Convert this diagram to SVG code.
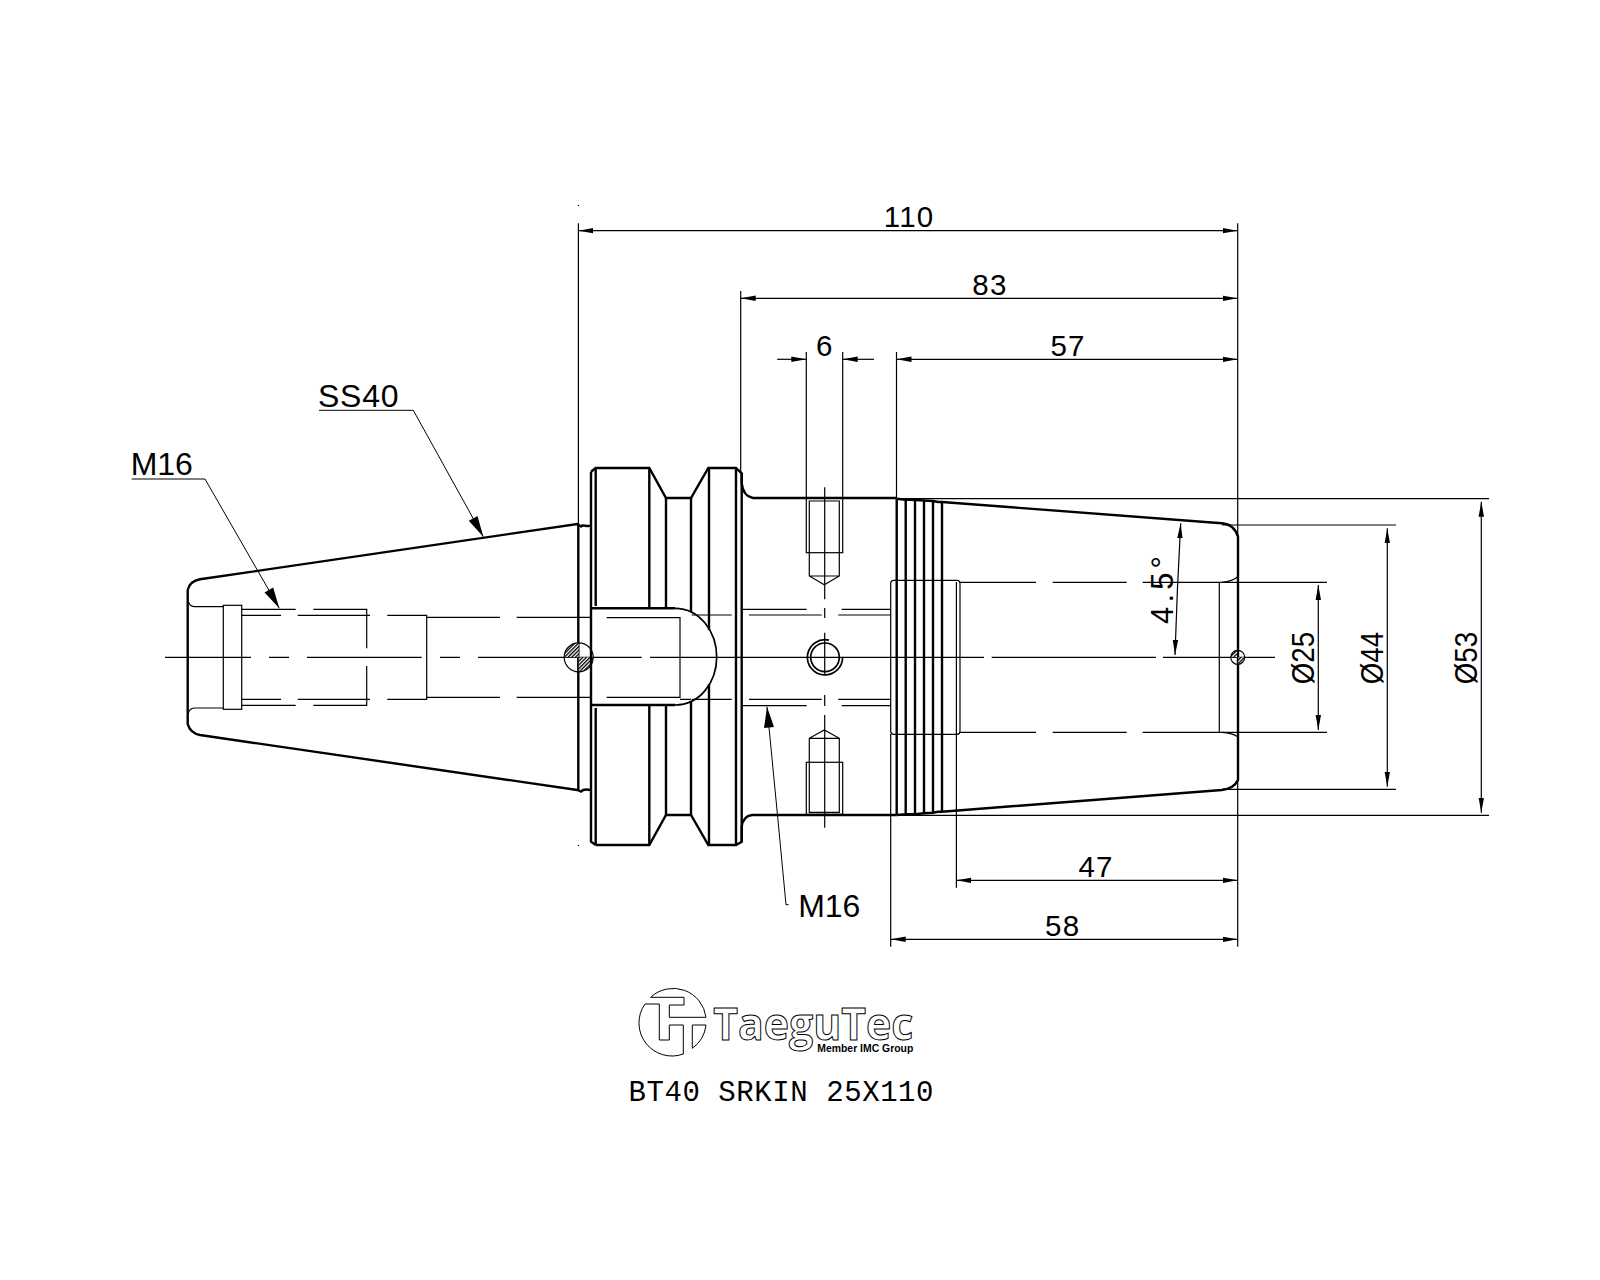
<svg xmlns="http://www.w3.org/2000/svg" width="1600" height="1280" viewBox="0 0 1600 1280">
<style>
.t{fill:none;stroke:#000;stroke-width:1.2}
.k{fill:none;stroke:#000;stroke-width:2.4}
.m{fill:none;stroke:#000;stroke-width:1.7}
.d{fill:none;stroke:#000;stroke-width:1.2;marker-start:url(#ar);marker-end:url(#af)}
.e{fill:none;stroke:#000;stroke-width:1.2;marker-end:url(#af)}
.l{fill:none;stroke:#000;stroke-width:1;marker-end:url(#lf)}
text{font-family:"Liberation Sans",Arial,sans-serif;fill:#000}
.s{font-size:29.5px;text-anchor:middle;letter-spacing:1.2px}
.b{font-size:32px}
.r{font-size:31px}
.logo{fill:#fff;stroke:#000;stroke-width:1}
</style>
<defs>
<marker id="af" markerUnits="userSpaceOnUse" markerWidth="16" markerHeight="8" refX="15" refY="4" orient="auto"><path d="M15 4L0 1.3V6.7Z" fill="#000"/></marker>
<marker id="ar" markerUnits="userSpaceOnUse" markerWidth="16" markerHeight="8" refX="1" refY="4" orient="auto"><path d="M1 4L16 1.3V6.7Z" fill="#000"/></marker>
<marker id="lf" markerUnits="userSpaceOnUse" markerWidth="24" markerHeight="12" refX="22" refY="6" orient="auto"><path d="M22 6L1 1V11Z" fill="#000"/></marker>
<pattern id="h" width="2.6" height="2.6" patternUnits="userSpaceOnUse" patternTransform="rotate(45)"><rect width="2.6" height="2.6" fill="#fff"/><rect width="1.3" height="2.6" fill="#000"/></pattern>
</defs>
<rect width="1600" height="1280" fill="#fff"/>

<g id="centre-lines">
<path class="t" d="M165 657.3H251M269 657.3H289M307 657.3H421.7M440 657.3H460M478 657.3H641.7M650 657.3H984M991.7 657.3H1156M1163 657.3H1275"/>
<path class="t" d="M824.7 487.3V599.3M824.7 608V618M824.7 632.7V675M824.7 695V706M824.7 715V827.7"/>
</g>

<g id="shank">
<path class="k" d="M590.7 525.7C586 527 583 524 581 526.5L577.3 524L200 579.3Q190 581 187.7 590V724Q190 733 200 735L577.3 790L581 791.5C583 789 586 789 590.7 790"/>
<path class="k" d="M578.3 524V790"/>
<path class="t" d="M188.3 601.7Q190 606.7 195 606.7H223.3M188.3 713Q190 708 195 708H223.3"/>
<rect class="t" x="223.3" y="605.3" width="18.4" height="104"/>
<path class="t" d="M241.7 609.3H295.7M313.3 609.3H366.7V648.3M366.7 666V705.3H313.3M295.7 705.3H241.7"/>
<path class="t" d="M241.7 615.3H281M297.7 615.3H370M387.3 615.3H426.7V699.3H387.3M370 699.3H297.7M281 699.3H241.7"/>
<path class="t" d="M426.7 617.3H500M516.7 617.3H591M426.7 697.3H500M516.7 697.3H591"/>
<path fill="url(#h)" d="M578.7 657.3V642.8A14.5 14.5 0 0 0 564.2 657.3ZM578.7 657.3V671.8A14.5 14.5 0 0 0 593.2 657.3Z"/>
<circle class="t" cx="578.7" cy="657.3" r="14.5"/>
</g>

<g id="flange">
<path class="k" d="M591 471.7L595.7 468H649.3L666 498H691L708.3 468H736L741.7 473.3V483Q743 496 753 498H896.7"/>
<path class="k" d="M595.7 845H649.3L666 815H691L708.3 845H736L741.7 841.7V826.7Q743 816 752 815H896.7"/>
<path class="k" d="M591 471.7V841.7L595.7 845M595.7 468V606M595.7 708V845M649.3 468V608.3M649.3 705V845M666 498V608.3M666 705V815M691 498V612M691 702V815M709 468V630M709 684V845M736 468V845M741.7 473V841.7"/>
<path class="k" d="M591 608.3H675M591 705H675"/>
<path class="m" d="M675 608.3C700 608.3 716.7 632 716.7 657C716.7 682 700 705 675 705"/>
<path class="t" d="M606.7 617.6H680V697.3H606.7M680 699.3H691"/>
<path class="t" d="M691.7 615H731.7M749 615H821.7M838.3 615H890.7M741.7 609.3H806.7M841.7 609.3H890.7"/>
<path class="t" d="M691.7 699.3H731.7M749 699.3H821.7M838.3 699.3H890.7M741.7 705.7H806.7M841.7 705.7H890.7"/>
</g>

<g id="screws">
<rect class="t" x="806.3" y="498" width="36.4" height="54.7"/>
<path class="t" d="M809.3 501H839.3V576L824.3 584.7L809.3 576ZM809.3 576H839.3"/>
<rect class="t" x="806.3" y="762.3" width="36.4" height="52"/>
<path class="t" d="M809.3 812.3H839.3V738.3L824.3 730L809.3 738.3ZM809.3 738.3H839.3"/>
<circle class="m" cx="825" cy="657.3" r="14.3"/>
<path class="m" d="M829 640.2A17.6 17.6 0 1 0 842.6 657.3"/>
</g>

<g id="nose">
<path class="k" d="M896.7 498.7L905.7 499.7H910L915 500L924 500.5L933 501L938 502H942L1221.7 523.3Q1234 524 1238 536.7V780Q1234 788.5 1221.7 790L942 811.7H938L933 812.7L924 813.3L915 814.3H906L896.7 815"/>
<path class="k" d="M896.7 498.7V815M905.7 499.7V814.3M915 500V814.3M924 500.5V813.3M933 501V812.7M942 502V811.7"/>
<rect class="t" x="890.7" y="580.3" width="69.3" height="154" rx="3"/>
<path class="t" d="M960 582.3H1036M1052.7 582.3H1126.7M1142.7 582.3H1327M960 732.3H1036M1052.7 732.3H1126.7M1142.7 732.3H1327"/>
<path class="t" d="M1219.3 582.3V732.3M1221.7 582.3Q1233 581 1237.7 576.7M1221.7 732.3Q1233 733 1237.7 736.7"/>
<path fill="url(#h)" d="M1237.7 657.3V650.3A7 7 0 0 0 1230.7 657.3ZM1237.7 657.3V664.3A7 7 0 0 0 1244.7 657.3Z"/>
<circle class="t" cx="1237.7" cy="657.3" r="7"/>
</g>

<g id="connectors">
<path class="t" d="M578.4 223.3V524M578.4 205v1M578.4 845v1M740.7 291V473M806.3 352V498M842.7 352V498M896.5 352V498M1237.7 223.3V946.7M956.4 582V887.7M890.7 734V946.7"/>
<path class="t" d="M897 498.7H1489M897 815.3H1489M1222 525H1396M1222 789.3H1396"/>
<path class="d" d="M578.4 230.7H1237.7"/>
<path class="d" d="M740.7 298.3H1237.7"/>
<path class="d" d="M896.5 359.3H1237.7"/>
<path class="e" d="M777.2 359.3H806.3"/>
<path class="e" d="M874 359.3H842.7"/>
<path class="d" d="M956.4 880.3H1237.7"/>
<path class="d" d="M890.7 939.3H1237.7"/>
<path class="d" d="M1318.3 585V730"/>
<path class="d" d="M1387.3 528.3V786.7"/>
<path class="d" d="M1481.3 501.7V812.7"/>
<path class="d" d="M1180.7 523.3Q1177 590 1175 655"/>
<path class="l" d="M319 410.3H413.3L483.3 536.7"/>
<path class="l" d="M131.7 479H205L279.3 608.3"/>
<path class="l" d="M788.7 904.7H786L777.3 813L767 706.7"/>
</g>

<g id="labels">
<text class="s" x="909.1" y="226.7">110</text>
<text class="s" x="989.9" y="295">83</text>
<text class="s" x="824.7" y="355.7">6</text>
<text class="s" x="1068" y="356">57</text>
<text class="s" x="1096" y="876.7">47</text>
<text class="s" x="1062.7" y="936">58</text>
<text class="b" x="318" y="406.7" textLength="80.5">SS40</text>
<text class="b" x="130.7" y="475" textLength="62">M16</text>
<text class="b" x="798.3" y="916.7" textLength="62">M16</text>
<text class="r" transform="translate(1314 684.3) rotate(-90)" textLength="52.5" lengthAdjust="spacingAndGlyphs">Ø25</text>
<text class="r" transform="translate(1382.7 684.3) rotate(-90)" textLength="52.5" lengthAdjust="spacingAndGlyphs">Ø44</text>
<text class="r" transform="translate(1476.7 684.3) rotate(-90)" textLength="52.5" lengthAdjust="spacingAndGlyphs">Ø53</text>
<text class="r" transform="translate(1172.7 624) rotate(-90)" textLength="68">4.5°</text>
<text x="628.5" y="1100.7" font-size="29" textLength="305" style="font-family:'Liberation Mono',monospace">BT40 SRKIN 25X110</text>
</g>

<g id="logo">
<path class="logo" d="M650.7 997.3A33 33 0 0 1 706 1017.3H669.3V1005H684V997.3Z"/>
<path class="logo" d="M645 1004H659.3V1040H669.3V1025H683.3V1054A33 33 0 0 1 645 1004Z"/>
<path class="logo" d="M692.3 1025H706A33 33 0 0 1 692.3 1048.3Z"/>
<text x="713.3" y="1040" font-size="44" font-weight="700" textLength="200" lengthAdjust="spacingAndGlyphs" style="font-family:'Open Sans',sans-serif;fill:#fff;stroke:#000;stroke-width:1">TaeguTec</text>
<text x="817.3" y="1051.7" font-size="11.5" font-weight="700" textLength="96" lengthAdjust="spacingAndGlyphs">Member IMC Group</text>
</g>
</svg>
